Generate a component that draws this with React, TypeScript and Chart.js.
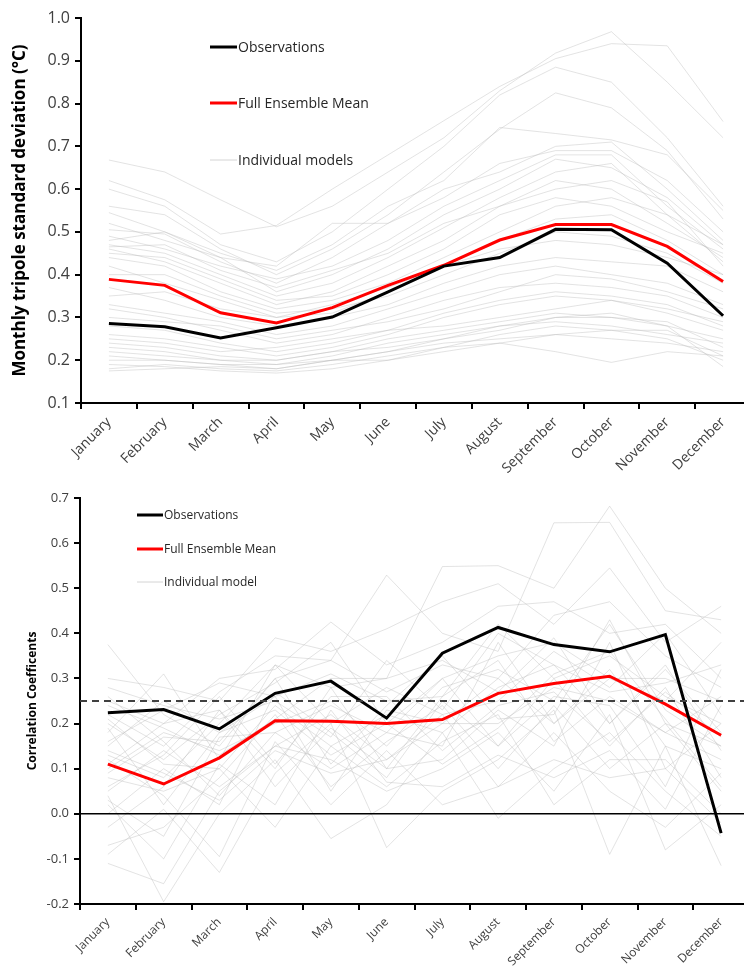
import React, { useEffect, useRef } from 'react';
import { Chart, registerables } from 'chart.js';

Chart.register(...registerables);

// ---------------- DATA ----------------
const months = ['January', 'February', 'March', 'April', 'May', 'June', 'July', 'August', 'September', 'October', 'November', 'December'];

// Top panel: monthly tripole standard deviation (°C)
const sdObservations = [0.286, 0.278, 0.252, 0.276, 0.301, 0.36, 0.42, 0.44, 0.506, 0.505, 0.427, 0.304];
const sdEnsembleMean = [0.389, 0.375, 0.311, 0.287, 0.323, 0.375, 0.422, 0.481, 0.517, 0.517, 0.466, 0.384];
const sdModels = [
  [0.668, 0.640, 0.575, 0.512, 0.560, 0.640, 0.720, 0.830, 0.918, 0.968, 0.850, 0.720],
  [0.620, 0.575, 0.495, 0.515, 0.600, 0.680, 0.760, 0.840, 0.905, 0.940, 0.935, 0.758],
  [0.600, 0.560, 0.470, 0.430, 0.500, 0.600, 0.700, 0.820, 0.885, 0.850, 0.720, 0.560],
  [0.560, 0.540, 0.460, 0.400, 0.460, 0.540, 0.640, 0.740, 0.825, 0.790, 0.690, 0.530],
  [0.545, 0.500, 0.450, 0.410, 0.470, 0.560, 0.620, 0.744, 0.730, 0.715, 0.680, 0.550],
  [0.520, 0.480, 0.440, 0.420, 0.520, 0.520, 0.600, 0.640, 0.700, 0.710, 0.600, 0.480],
  [0.505, 0.495, 0.430, 0.380, 0.440, 0.520, 0.580, 0.660, 0.690, 0.690, 0.620, 0.500],
  [0.490, 0.460, 0.420, 0.390, 0.420, 0.480, 0.560, 0.620, 0.680, 0.680, 0.560, 0.460],
  [0.480, 0.500, 0.440, 0.360, 0.400, 0.460, 0.540, 0.600, 0.670, 0.650, 0.580, 0.470],
  [0.470, 0.450, 0.400, 0.350, 0.380, 0.440, 0.510, 0.580, 0.640, 0.660, 0.540, 0.430],
  [0.465, 0.470, 0.410, 0.370, 0.410, 0.450, 0.520, 0.560, 0.620, 0.600, 0.520, 0.440],
  [0.460, 0.430, 0.380, 0.330, 0.360, 0.420, 0.480, 0.560, 0.600, 0.620, 0.570, 0.420],
  [0.450, 0.440, 0.390, 0.340, 0.350, 0.400, 0.460, 0.540, 0.580, 0.560, 0.500, 0.450],
  [0.440, 0.420, 0.360, 0.320, 0.340, 0.380, 0.440, 0.500, 0.560, 0.580, 0.540, 0.470],
  [0.420, 0.380, 0.340, 0.300, 0.330, 0.370, 0.420, 0.480, 0.530, 0.540, 0.480, 0.400],
  [0.400, 0.400, 0.350, 0.310, 0.320, 0.350, 0.400, 0.450, 0.500, 0.490, 0.450, 0.380],
  [0.370, 0.340, 0.300, 0.280, 0.300, 0.330, 0.380, 0.420, 0.440, 0.430, 0.420, 0.360],
  [0.330, 0.310, 0.290, 0.260, 0.280, 0.320, 0.360, 0.400, 0.420, 0.400, 0.380, 0.330],
  [0.320, 0.300, 0.270, 0.240, 0.260, 0.300, 0.340, 0.370, 0.380, 0.370, 0.350, 0.300],
  [0.300, 0.290, 0.280, 0.250, 0.270, 0.290, 0.320, 0.360, 0.400, 0.390, 0.360, 0.320],
  [0.280, 0.270, 0.240, 0.220, 0.240, 0.270, 0.310, 0.340, 0.360, 0.350, 0.330, 0.280],
  [0.260, 0.250, 0.230, 0.210, 0.230, 0.260, 0.300, 0.330, 0.350, 0.340, 0.310, 0.270],
  [0.250, 0.240, 0.220, 0.230, 0.250, 0.270, 0.280, 0.300, 0.320, 0.340, 0.320, 0.290],
  [0.240, 0.230, 0.210, 0.200, 0.220, 0.250, 0.270, 0.290, 0.310, 0.300, 0.280, 0.250],
  [0.230, 0.220, 0.200, 0.190, 0.210, 0.240, 0.260, 0.280, 0.290, 0.280, 0.260, 0.240],
  [0.220, 0.210, 0.200, 0.200, 0.220, 0.230, 0.250, 0.270, 0.300, 0.300, 0.290, 0.230],
  [0.210, 0.200, 0.190, 0.180, 0.200, 0.220, 0.240, 0.250, 0.260, 0.250, 0.240, 0.220],
  [0.200, 0.200, 0.190, 0.190, 0.200, 0.200, 0.230, 0.240, 0.220, 0.195, 0.220, 0.210],
  [0.180, 0.190, 0.180, 0.175, 0.190, 0.210, 0.230, 0.260, 0.280, 0.270, 0.250, 0.200],
  [0.175, 0.180, 0.185, 0.180, 0.200, 0.220, 0.250, 0.280, 0.300, 0.310, 0.280, 0.185],
  [0.190, 0.185, 0.175, 0.170, 0.180, 0.200, 0.220, 0.240, 0.260, 0.270, 0.270, 0.210],
  [0.350, 0.360, 0.320, 0.300, 0.310, 0.360, 0.420, 0.460, 0.480, 0.470, 0.440, 0.400],
];

// Bottom panel: correlation coefficients
const corrObservations = [0.224, 0.231, 0.188, 0.267, 0.294, 0.212, 0.356, 0.413, 0.375, 0.359, 0.397, -0.043];
const corrEnsembleMean = [0.110, 0.066, 0.124, 0.206, 0.205, 0.200, 0.209, 0.267, 0.289, 0.305, 0.243, 0.174];
const corrModels = [
  [0.375, 0.220, 0.150, 0.300, 0.340, 0.529, 0.400, 0.360, 0.645, 0.646, 0.450, 0.430],
  [0.180, 0.310, 0.120, 0.330, 0.280, 0.300, 0.548, 0.550, 0.500, 0.682, 0.500, 0.400],
  [0.300, 0.280, 0.250, 0.390, 0.360, 0.410, 0.470, 0.510, 0.420, 0.545, 0.380, 0.460],
  [0.250, 0.200, 0.300, 0.320, 0.425, 0.330, 0.380, 0.460, 0.470, 0.400, 0.420, 0.300],
  [0.220, 0.150, 0.270, 0.350, 0.340, 0.270, 0.330, 0.300, 0.440, 0.470, 0.350, 0.280],
  [0.200, 0.120, 0.220, 0.290, 0.380, 0.200, 0.300, 0.350, 0.380, 0.300, 0.300, 0.250],
  [0.150, 0.250, 0.180, 0.260, 0.310, 0.250, 0.260, 0.420, 0.300, 0.350, 0.260, 0.200],
  [0.130, 0.080, 0.200, 0.330, 0.200, 0.280, 0.220, 0.250, 0.360, 0.280, 0.400, 0.220],
  [0.100, 0.180, 0.140, 0.200, 0.250, 0.150, 0.280, 0.320, 0.250, 0.420, 0.230, 0.150],
  [0.080, 0.050, 0.100, 0.240, 0.150, 0.220, 0.180, 0.280, 0.330, 0.200, 0.320, 0.180],
  [0.050, 0.140, 0.060, 0.150, 0.220, 0.120, 0.200, 0.200, 0.280, 0.250, 0.180, 0.120],
  [0.030, -0.050, 0.170, 0.180, 0.100, 0.180, 0.150, 0.380, 0.200, 0.320, 0.150, 0.100],
  [0.000, 0.100, 0.020, 0.270, 0.180, 0.080, 0.250, 0.150, 0.300, 0.150, 0.280, 0.080],
  [-0.030, 0.060, 0.230, 0.100, 0.280, 0.100, 0.120, 0.230, 0.150, 0.380, 0.100, 0.200],
  [-0.070, -0.030, 0.080, 0.220, 0.060, 0.160, 0.240, 0.100, 0.240, 0.100, 0.200, 0.050],
  [-0.110, -0.155, 0.050, 0.150, 0.120, 0.050, 0.100, 0.180, 0.050, 0.220, -0.080, 0.020],
  [-0.090, 0.010, -0.130, 0.090, 0.200, -0.075, 0.050, 0.120, 0.230, -0.090, 0.150, -0.115],
  [0.040, -0.195, 0.000, 0.120, -0.055, 0.020, 0.180, -0.010, 0.100, 0.180, 0.050, -0.050],
  [0.120, 0.040, -0.095, 0.160, 0.020, 0.140, 0.020, 0.060, 0.180, 0.050, -0.030, 0.090],
  [0.210, 0.110, 0.100, -0.030, 0.150, 0.060, 0.160, 0.220, 0.020, 0.120, 0.120, 0.000],
  [0.260, 0.160, 0.040, 0.180, 0.240, 0.180, 0.300, 0.150, 0.260, 0.240, 0.060, 0.320],
  [0.160, 0.230, 0.290, 0.260, 0.050, 0.230, 0.200, 0.300, 0.200, 0.300, 0.250, 0.380],
  [0.240, 0.190, 0.130, 0.210, 0.300, 0.300, 0.340, 0.270, 0.390, 0.200, 0.330, 0.140],
  [0.110, 0.200, 0.230, 0.060, 0.190, 0.100, 0.260, 0.340, 0.160, 0.260, 0.180, 0.260],
  [0.190, 0.020, 0.180, 0.230, 0.130, 0.200, 0.110, 0.190, 0.310, 0.360, 0.210, 0.060],
  [0.060, 0.130, 0.260, 0.110, 0.260, 0.260, 0.140, 0.240, 0.270, 0.160, 0.270, 0.170],
  [0.140, 0.090, 0.030, 0.140, 0.090, 0.120, 0.220, 0.060, 0.120, 0.080, 0.100, -0.020],
  [0.020, -0.100, 0.110, 0.020, 0.230, 0.070, 0.060, 0.130, 0.080, 0.140, 0.010, 0.240],
  [0.280, 0.240, 0.210, 0.250, 0.170, 0.340, 0.230, 0.400, 0.330, 0.270, 0.290, 0.330],
  [0.090, 0.170, 0.160, 0.300, 0.110, 0.240, 0.350, 0.210, 0.220, 0.430, 0.200, 0.150],
];
const significanceLevel = 0.25;
const zeroLevel = 0;

const topLegendLabels = ['Observations', 'Full Ensemble Mean', 'Individual models'];
const bottomLegendLabels = ['Observations', 'Full Ensemble Mean', 'Individual model'];
const topYTitle = 'Monthly tripole standard deviation (°C)';
const bottomYTitle = 'Correlation Coefficents';

// ---------------- STYLE ----------------
const FONT = "'Open Sans', 'DejaVu Sans', sans-serif";
const OBS_COLOR = '#000000';
const MEAN_COLOR = '#ff0000';
const MODEL_COLOR = 'rgba(185,185,185,0.40)';
const TICK_COLOR = '#404040';

const overlayPlugin = {
  id: 'overlay',
  afterDatasetsDraw(chart: any, _args: any, opts: any) {
    const { ctx, chartArea, scales } = chart;
    const y = scales.y;
    ctx.save();
    (opts.refLines || []).forEach((r: any) => {
      const py = y.getPixelForValue(r.value);
      ctx.strokeStyle = r.color;
      ctx.lineWidth = r.width;
      ctx.setLineDash(r.dash || []);
      ctx.beginPath();
      ctx.moveTo(chartArea.left, py);
      ctx.lineTo(chartArea.right, py);
      ctx.stroke();
    });
    ctx.restore();
  },
  afterDraw(chart: any, _args: any, opts: any) {
    const { ctx, chartArea } = chart;
    const lg = opts.legend;
    if (!lg) return;
    ctx.save();
    lg.items.forEach((it: any) => {
      const x0 = chartArea.left + lg.dx;
      const py = chartArea.top + it.dy;
      ctx.strokeStyle = it.color;
      ctx.lineWidth = it.width;
      ctx.setLineDash([]);
      ctx.beginPath();
      ctx.moveTo(x0, py);
      ctx.lineTo(x0 + lg.lineLen, py);
      ctx.stroke();
      ctx.fillStyle = '#262626';
      ctx.font = lg.font;
      ctx.textBaseline = 'middle';
      ctx.textAlign = 'left';
      ctx.fillText(it.text, x0 + lg.lineLen + 1, py + 1);
    });
    ctx.restore();
  },
};

function buildConfig(p: any) {
  const datasets: any[] = [
    { label: p.legendLabels[0], data: p.obs, borderColor: OBS_COLOR, borderWidth: 3, pointRadius: 0, tension: 0, order: 0 },
    { label: p.legendLabels[1], data: p.mean, borderColor: MEAN_COLOR, borderWidth: 3, pointRadius: 0, tension: 0, order: 1 },
    ...p.models.map((m: number[], i: number) => ({
      label: `${p.legendLabels[2]} ${i + 1}`,
      data: m,
      borderColor: MODEL_COLOR,
      borderWidth: 1,
      pointRadius: 0,
      tension: 0,
      order: 2,
    })),
  ];
  return {
    type: 'line',
    data: { labels: months, datasets },
    plugins: [overlayPlugin],
    options: {
      responsive: false,
      animation: false,
      events: [],
      layout: { padding: { left: 0, top: p.padTop, right: p.padRight, bottom: 0 } },
      plugins: {
        legend: { display: false },
        tooltip: { enabled: false },
        overlay: {
          refLines: p.refLines,
          legend: {
            dx: p.legendDx,
            lineLen: p.legendLineLen,
            font: p.legendFont,
            items: [
              { text: p.legendLabels[0], color: OBS_COLOR, width: 3, dy: p.legendDy[0] },
              { text: p.legendLabels[1], color: MEAN_COLOR, width: 3, dy: p.legendDy[1] },
              { text: p.legendLabels[2], color: 'rgba(185,185,185,0.6)', width: 1, dy: p.legendDy[2] },
            ],
          },
        },
      },
      scales: {
        x: {
          type: 'category',
          offset: true,
          grid: { display: true, offset: true, drawOnChartArea: false, drawTicks: true, tickLength: 6, color: '#000', lineWidth: 2 },
          border: { display: true, color: '#000', width: 2 },
          ticks: {
            autoSkip: false,
            maxRotation: 45,
            minRotation: 45,
            padding: 5,
            color: TICK_COLOR,
            font: { family: FONT, size: p.xFontSize },
          },
          afterFit: (s: any) => { s.height = p.xHeight; },
        },
        y: {
          min: p.yMin,
          max: p.yMax,
          grid: { display: true, drawOnChartArea: false, drawTicks: true, tickLength: 6, color: '#000', lineWidth: 2 },
          border: { display: true, color: '#000', width: 2 },
          ticks: {
            stepSize: 0.1,
            padding: 5,
            color: TICK_COLOR,
            font: { family: FONT, size: p.yFontSize },
            callback: (v: any) => (Math.abs(Number(v)) < 1e-9 ? '0.0' : Number(v).toFixed(1)),
          },
          title: {
            display: true,
            text: p.yTitle,
            color: '#000',
            font: { family: FONT, size: p.yTitleSize, weight: 'bold' },
            padding: { top: p.yTitlePad, bottom: 0 },
          },
          afterFit: (s: any) => { s.width = p.yWidth; },
        },
      },
    },
  };
}

function Panel(props: { cfg: any; width: number; height: number; top: number }) {
  const ref = useRef<HTMLCanvasElement | null>(null);
  useEffect(() => {
    if (!ref.current) return;
    const chart = new Chart(ref.current, buildConfig(props.cfg) as any);
    return () => chart.destroy();
  }, []);
  return (
    <canvas
      ref={ref}
      width={props.width}
      height={props.height}
      style={{ position: 'absolute', left: 0, top: props.top, width: props.width, height: props.height }}
    />
  );
}

const topCfg = {
  obs: sdObservations,
  mean: sdEnsembleMean,
  models: sdModels,
  legendLabels: topLegendLabels,
  yTitle: topYTitle,
  yMin: 0.1,
  yMax: 1.0,
  padTop: 18,
  padRight: 9,
  xHeight: 77,
  yWidth: 81,
  xFontSize: 14,
  yFontSize: 16,
  yTitleSize: 17,
  yTitlePad: 10,
  legendDx: 129,
  legendLineLen: 27,
  legendFont: `14px ${FONT}`,
  legendDy: [29, 85, 142],
  refLines: [],
};

const bottomCfg = {
  obs: corrObservations,
  mean: corrEnsembleMean,
  models: corrModels,
  legendLabels: bottomLegendLabels,
  yTitle: bottomYTitle,
  yMin: -0.2,
  yMax: 0.7,
  padTop: 18,
  padRight: 11,
  xHeight: 63,
  yWidth: 80,
  xFontSize: 12,
  yFontSize: 13,
  yTitleSize: 12,
  yTitlePad: 25,
  legendDx: 57,
  legendLineLen: 26,
  legendFont: `12px ${FONT}`,
  legendDy: [17, 51, 84],
  refLines: [
    { value: zeroLevel, color: '#000', width: 1.5, dash: [] },
    { value: significanceLevel, color: '#404040', width: 2, dash: [7, 5] },
  ],
};

export default function App() {
  return (
    <div style={{ position: 'absolute', left: 0, top: 0, width: 744, height: 967, overflow: 'hidden', background: '#fff' }}>
      <Panel cfg={topCfg} width={760} height={480} top={0} />
      <Panel cfg={bottomCfg} width={760} height={487} top={480} />
    </div>
  );
}
